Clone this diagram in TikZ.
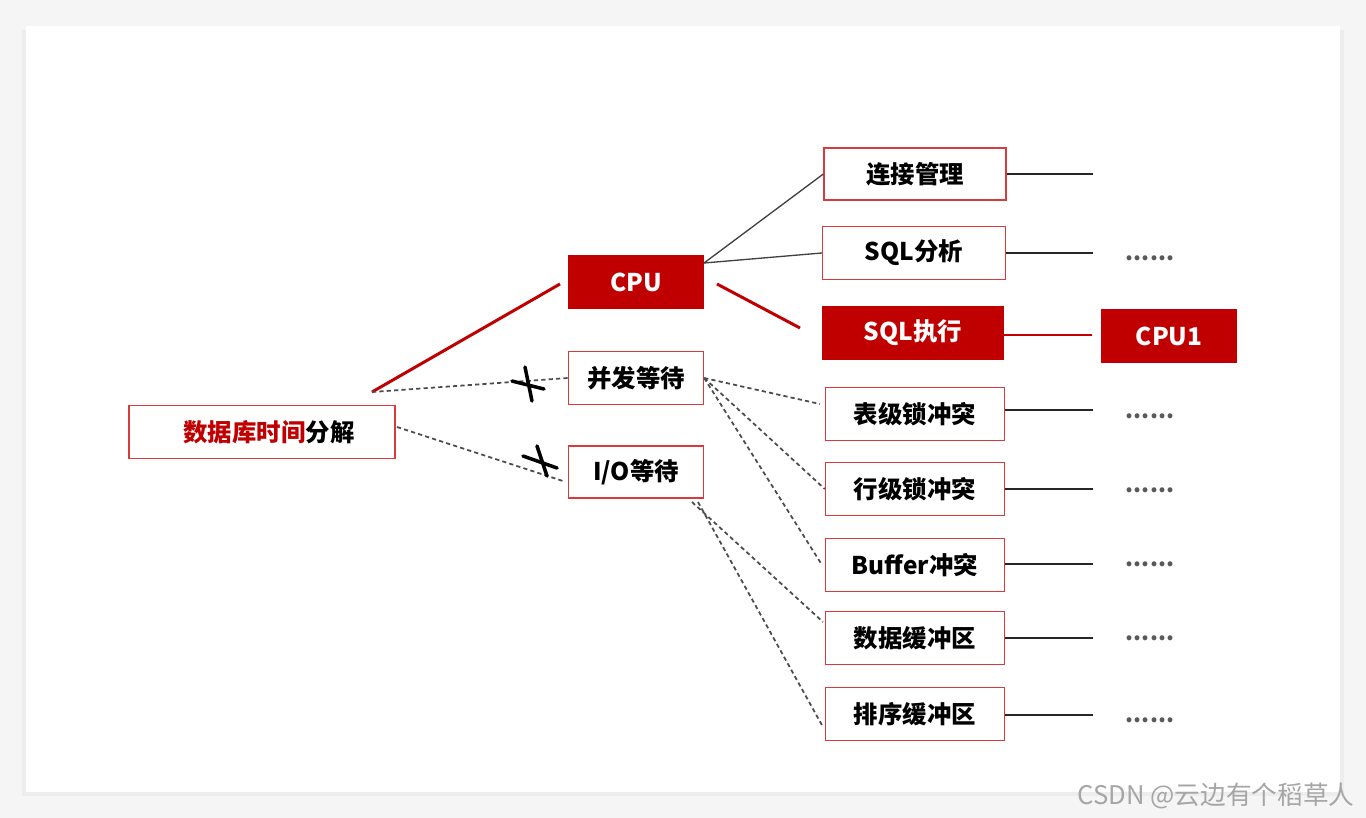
\documentclass[tikz,border=0pt]{standalone}
\usepackage{xcolor}
\usepackage{fontspec}
\setmainfont{Noto Sans CJK SC}
\usepackage{tikz}
\usetikzlibrary{positioning}
\definecolor{dbred}{HTML}{C00000}
\definecolor{boxred}{HTML}{D93A3C}
\definecolor{lnk}{HTML}{404040}

\begin{document}
\begin{tikzpicture}[x=0.02cm,y=-0.02cm,
  box/.style={draw=boxred,line width=0.8pt,fill=white,minimum width=3.58cm,minimum height=1.07cm,inner sep=0pt,font=\fontsize{13.9}{16}\selectfont\bfseries},
  redbox/.style={box,draw=dbred,fill=dbred,text=white},
  dash line/.style={draw=black!70,line width=1pt,dash pattern=on 2.4pt off 1.8pt},
  tail/.style={draw=black!85,line width=0.85pt},
  dots/.style={font=\fontsize{13}{14}\selectfont\bfseries,text=black!65,inner sep=0pt},
  cross/.style={line width=2pt,line cap=round}]
%%frame
\useasboundingbox (0,0) rectangle (1366,818);
\fill[black!4] (0,0) rectangle (1366,818);
\fill[black!7] (22,30) rectangle (1344,796);
\fill[white] (26,26) rectangle (1340,792);
%%the boxes
\node[box,minimum width=5.32cm] (root) at (262,432) {\hspace*{8pt}\textcolor{dbred}{数据库时间}分解};
\node[redbox,minimum width=2.68cm,minimum height=1.04cm] (cpu) at (636,282) {CPU};
\node[box,minimum width=2.7cm] (wait) at (636,378) {并发等待};
\node[box,minimum width=2.7cm,minimum height=1.04cm] (io) at (636,472) {I/O等待};
\node[box,minimum width=3.64cm,minimum height=1.04cm] (conn) at (915,174) {连接管理};
\node[box,minimum width=3.66cm] (parse) at (914,253) {SQL分析};
\node[redbox,minimum width=3.62cm] (exec) at (913,333) {SQL执行};
\node[redbox,minimum width=2.68cm] (cpuone) at (1169,336) {CPU1};
\node[box] (tablock) at (915,414) {表级锁冲突};
\node[box] (rowlock) at (915,489) {行级锁冲突};
\node[box] (buffer) at (915,565) {Buffer冲突};
\node[box] (databuf) at (915,638) {数据缓冲区};
\node[box] (sortbuf) at (915,714) {排序缓冲区};
%%from the root
\coordinate (fork) at (372,392);
\draw[dbred,line width=1.7pt] (fork) -- (560,284) coordinate (cpuin);
\draw[dash line] (fork) -- (wait.west);
\draw[dash line] (397,427) coordinate (rootout) -- (563,481) coordinate (ioin);
\draw[cross] (512,381) -- (544,389) (525,367) -- (532,401);
\draw[cross] (523,456) -- (557,468) (537,446) -- (547,476);
%%cpu branch
\draw[lnk,line width=0.75pt] (704,263) coordinate (cpuout) -- (conn.west);
\draw[lnk,line width=0.75pt] (cpuout) -- (parse.west);
\draw[dbred,line width=1.7pt] (717,284) coordinate (cpured) -- (800,328) coordinate (execin);
\draw[dbred,line width=1.2pt] (exec.east |- 0,335) -- (1092,335) coordinate (cpuonein);
%%waits
\draw[dash line] (wait.east) -- (820,404);
\draw[dash line] (wait.east) -- (rowlock.west);
\draw[dash line] (wait.east) -- (822,565);
\draw[dash line] (692,502) coordinate (ioa) -- (823,622);
\draw[dash line] (698,502) coordinate (iob) -- (823,727);
%%tails on the right
\foreach \b/\y/\d in {conn/174/0,parse/253/258,tablock/410/416,rowlock/489/490,buffer/564/564,databuf/638/638,sortbuf/715/720}{
  \draw[tail] (\b.east |- 0,\y) -- (1093,\y) coordinate (\b end);
  \ifnum\d>0 \node[dots] at (1150,\d) {......};\fi
}
%%watermark
\node[text=black!35,font=\fontsize{14.6}{15}\selectfont] (mark) at (1216,796) {CSDN @云边有个稻草人};
\end{tikzpicture}
\end{document}
